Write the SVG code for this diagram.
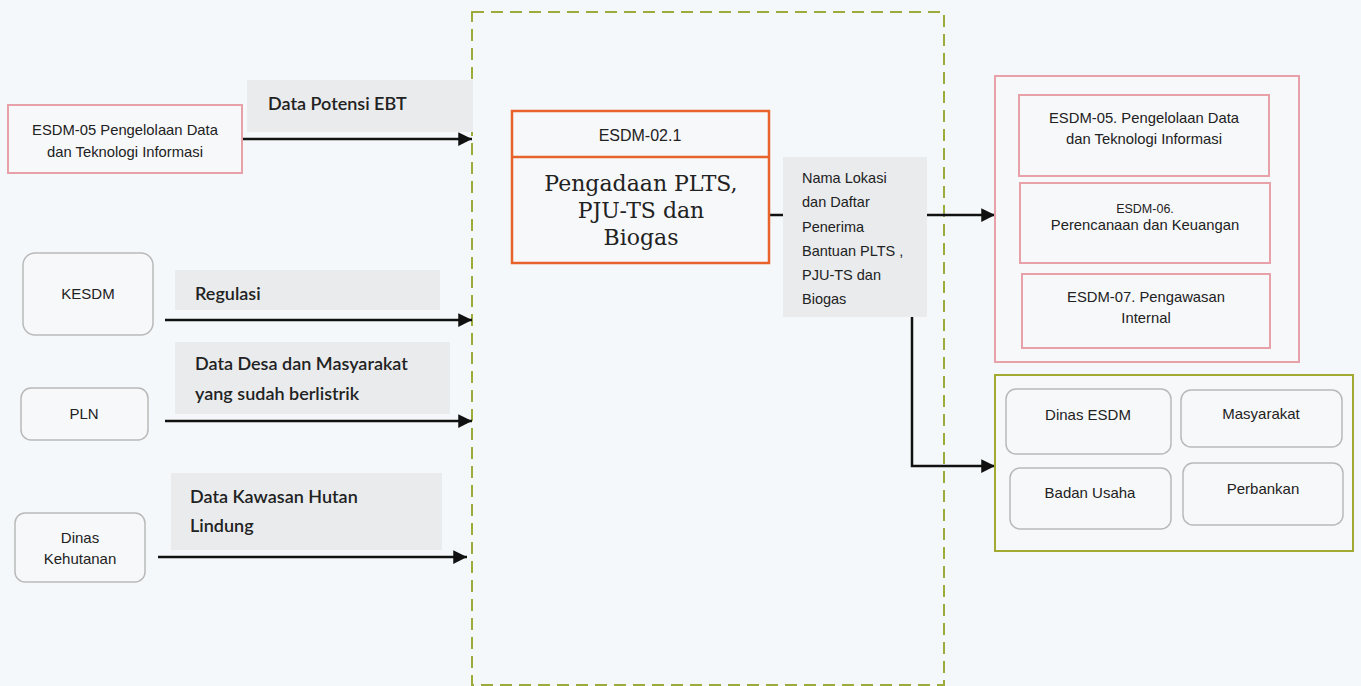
<svg xmlns="http://www.w3.org/2000/svg" width="1361" height="686" viewBox="0 0 1361 686">
<defs>
<marker id="ah" viewBox="0 0 10 10" refX="10" refY="5" markerWidth="6" markerHeight="5.5" markerUnits="strokeWidth" orient="auto">
<path d="M0,0 L10,5 L0,10 z" fill="#111"/>
</marker>
<style>
.bg{fill:#f5f8fa}
.lbl{fill:#e9ebed}
.pink{fill:#f7f8fa;stroke:#e8a1a8;stroke-width:2}
.grey{fill:#f7f8fa;stroke:#b9b9b9;stroke-width:1.5}
.conn{stroke:#111;stroke-width:2.5;fill:none}
.sans{font-family:"Liberation Sans",Arial,sans-serif;fill:#222}
.cal{font-family:Lato,"Open Sans",sans-serif;font-weight:600;fill:#222;font-size:18px}
.ser{font-family:"DejaVu Serif","Liberation Serif",serif;fill:#222}
</style>
</defs>
<rect class="bg" x="0" y="0" width="1361" height="686"/>

<g id="frame">
<rect x="472" y="12" width="472" height="673" fill="none" stroke="#9dab3c" stroke-width="2" stroke-dasharray="12,7"/>
</g>

<g id="labels">
<rect class="lbl" x="247" y="80" width="226" height="52"/>
<text class="cal" x="268" y="110">Data Potensi EBT</text>
<rect class="lbl" x="175" y="270" width="265" height="40"/>
<text class="cal" x="195" y="300">Regulasi</text>
<rect class="lbl" x="175" y="342" width="275" height="72"/>
<text class="cal" x="195" y="370">Data Desa dan Masyarakat</text>
<text class="cal" x="195" y="400">yang sudah berlistrik</text>
<rect class="lbl" x="171" y="473" width="271" height="77"/>
<text class="cal" x="190" y="503">Data Kawasan Hutan</text>
<text class="cal" x="190" y="532">Lindung</text>
</g>

<g id="connectors">
<line class="conn" x1="242" y1="139" x2="472" y2="139" marker-end="url(#ah)"/>
<line class="conn" x1="165" y1="320" x2="472" y2="320" marker-end="url(#ah)"/>
<line class="conn" x1="165" y1="421" x2="472" y2="421" marker-end="url(#ah)"/>
<line class="conn" x1="158" y1="557" x2="467" y2="557" marker-end="url(#ah)"/>
<line class="conn" x1="769" y1="215" x2="995" y2="215" marker-end="url(#ah)"/>
<polyline class="conn" points="912,300 912,466 995,466" marker-end="url(#ah)"/>
</g>

<g id="out-label">
<rect class="lbl" x="783" y="157" width="144" height="160"/>
<g class="sans" font-size="14.5">
<text x="802" y="183">Nama Lokasi</text>
<text x="802" y="207">dan Daftar</text>
<text x="802" y="232">Penerima</text>
<text x="802" y="256">Bantuan PLTS ,</text>
<text x="802" y="280">PJU-TS dan</text>
<text x="802" y="304">Biogas</text>
</g>
</g>

<g id="n-esdm05-left">
<rect class="pink" x="8" y="105" width="234" height="68"/>
<text class="sans" font-size="14.8" text-anchor="middle" x="125" y="135">ESDM-05 Pengelolaan Data</text>
<text class="sans" font-size="14.8" text-anchor="middle" x="125" y="157">dan  Teknologi Informasi</text>
</g>

<g id="n-kesdm">
<rect class="grey" x="23" y="253" width="130" height="82" rx="12"/>
<text class="sans" font-size="15" text-anchor="middle" x="88" y="299">KESDM</text>
</g>

<g id="n-pln">
<rect class="grey" x="21" y="388" width="127" height="52" rx="10"/>
<text class="sans" font-size="15" text-anchor="middle" x="84" y="419">PLN</text>
</g>

<g id="n-kehutanan">
<rect class="grey" x="15" y="513" width="130" height="69" rx="10"/>
<text class="sans" font-size="15" text-anchor="middle" x="80" y="543">Dinas</text>
<text class="sans" font-size="15" text-anchor="middle" x="80" y="564">Kehutanan</text>
</g>

<g id="n-main">
<rect x="512" y="111" width="257" height="152" fill="#f7f8fa" stroke="#e8632b" stroke-width="2.5"/>
<line x1="512" y1="157" x2="769" y2="157" stroke="#e8632b" stroke-width="2.5"/>
<text class="sans" font-size="16" text-anchor="middle" x="640" y="141">ESDM-02.1</text>
<text class="ser" font-size="22" text-anchor="middle" x="641" y="191">Pengadaan PLTS,</text>
<text class="ser" font-size="22" text-anchor="middle" x="641" y="218">PJU-TS dan</text>
<text class="ser" font-size="22" text-anchor="middle" x="641" y="245">Biogas</text>
</g>

<g id="n-internal">
<rect class="pink" x="995" y="76" width="304" height="286"/>
<rect class="pink" x="1019" y="95" width="250" height="81"/>
<text class="sans" font-size="14.8" text-anchor="middle" x="1144" y="123">ESDM-05. Pengelolaan Data</text>
<text class="sans" font-size="14.8" text-anchor="middle" x="1144" y="144">dan  Teknologi Informasi</text>
<rect class="pink" x="1020" y="183" width="250" height="80"/>
<text class="sans" font-size="12.5" text-anchor="middle" x="1145" y="213">ESDM-06.</text>
<text class="sans" font-size="14.8" text-anchor="middle" x="1145" y="230">Perencanaan dan Keuangan</text>
<rect class="pink" x="1022" y="274" width="248" height="74"/>
<text class="sans" font-size="14.8" text-anchor="middle" x="1146" y="302">ESDM-07. Pengawasan</text>
<text class="sans" font-size="14.8" text-anchor="middle" x="1146" y="323">Internal</text>
</g>

<g id="n-external">
<rect x="995" y="375" width="358" height="176" fill="#f7f8fa" stroke="#a2aa32" stroke-width="2"/>
<rect class="grey" x="1006" y="389" width="165" height="65" rx="10"/>
<text class="sans" font-size="15" text-anchor="middle" x="1088" y="420">Dinas ESDM</text>
<rect class="grey" x="1181" y="390" width="161" height="57" rx="10"/>
<text class="sans" font-size="15" text-anchor="middle" x="1261" y="419">Masyarakat</text>
<rect class="grey" x="1010" y="468" width="161" height="61" rx="10"/>
<text class="sans" font-size="15" text-anchor="middle" x="1090" y="498">Badan Usaha</text>
<rect class="grey" x="1183" y="463" width="160" height="62" rx="10"/>
<text class="sans" font-size="15" text-anchor="middle" x="1263" y="494">Perbankan</text>
</g>
</svg>
